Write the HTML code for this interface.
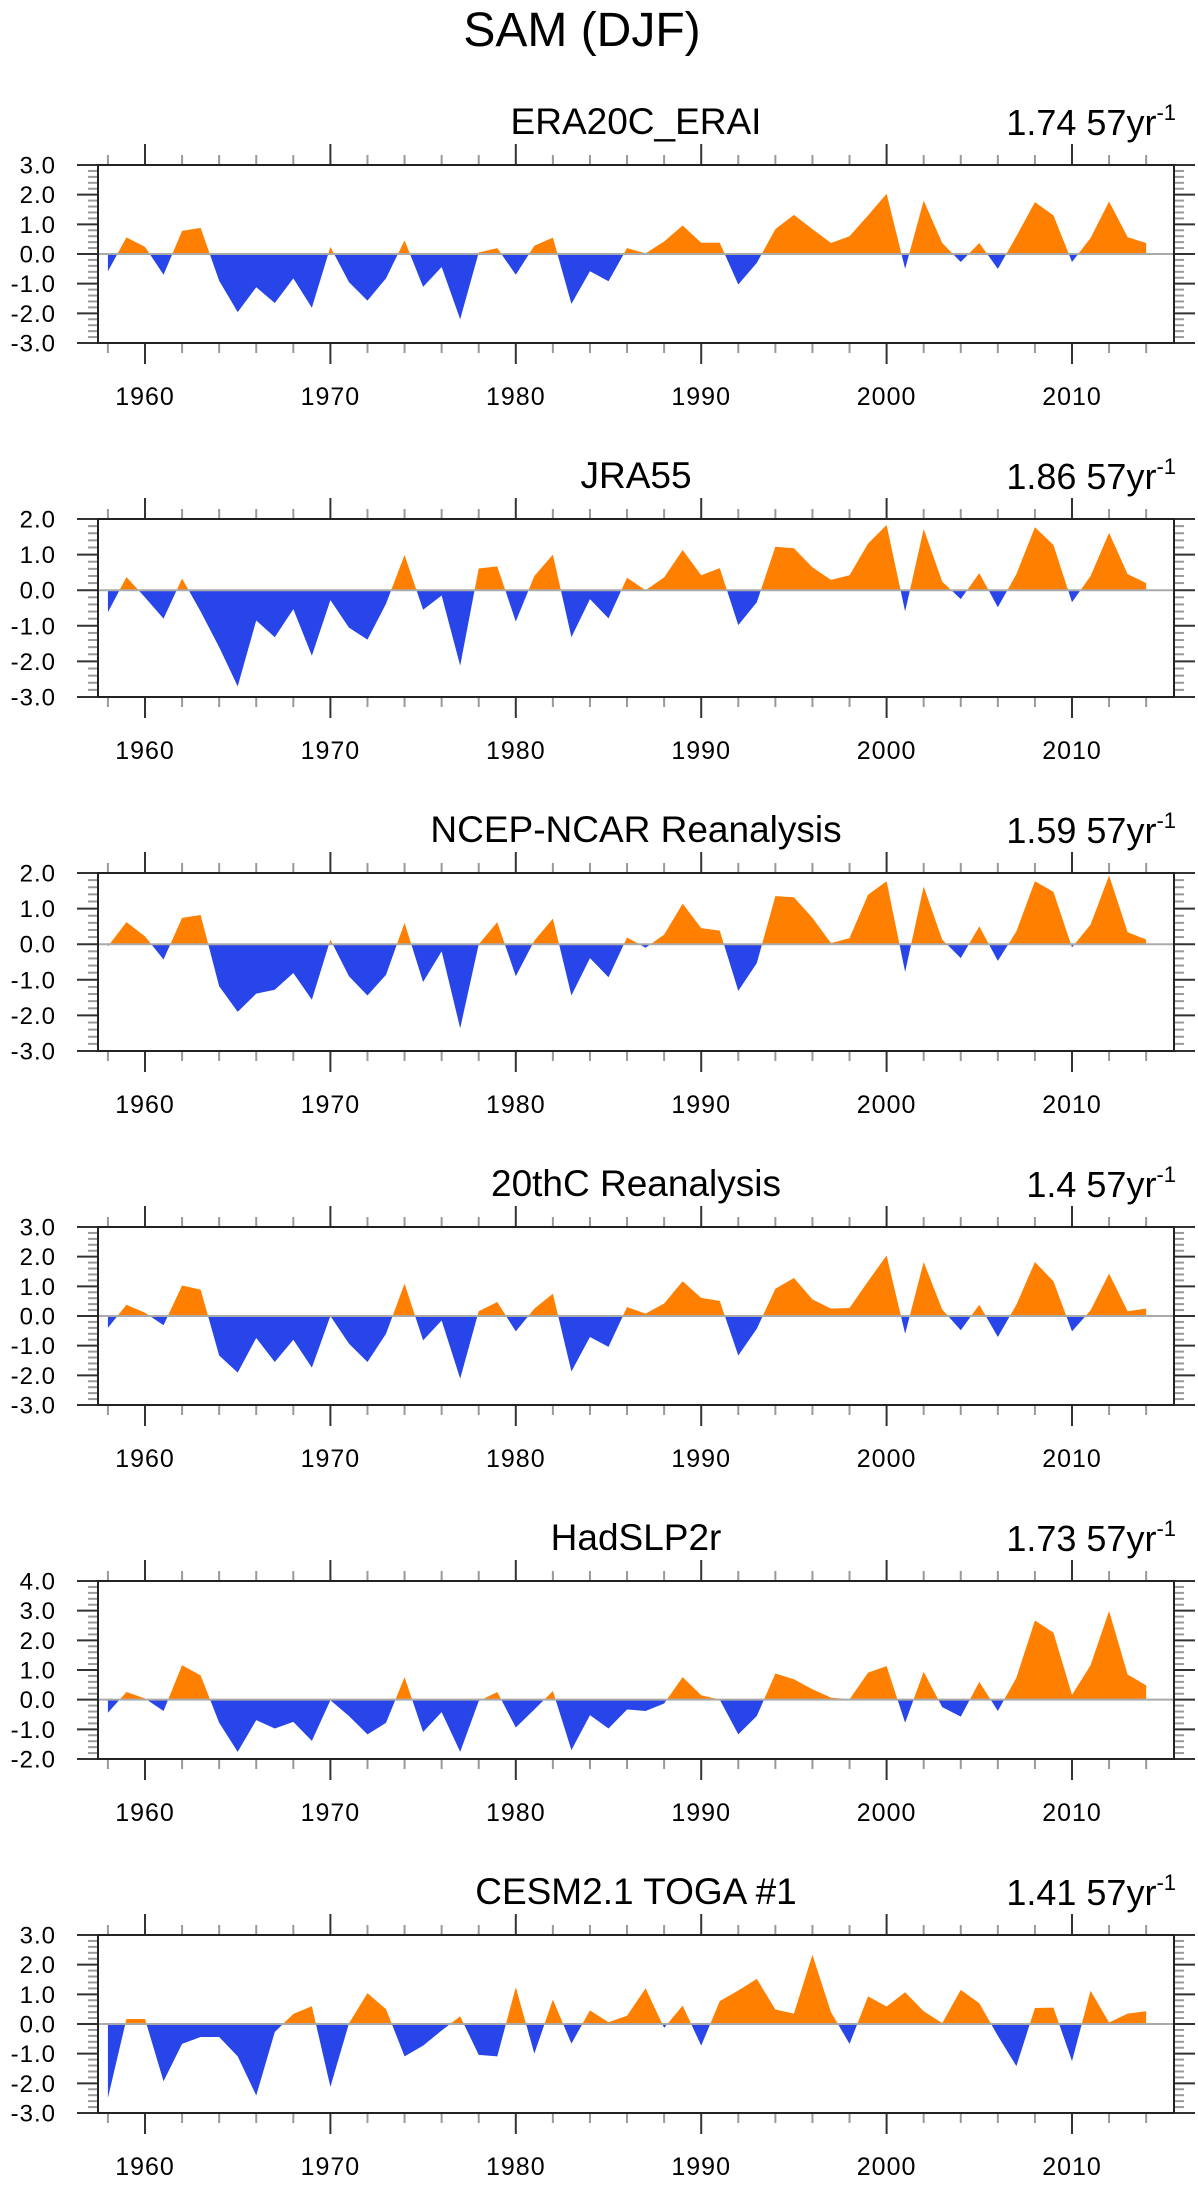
<!DOCTYPE html>
<html><head><meta charset="utf-8"><style>
html,body{margin:0;padding:0;background:#fff;}
svg{display:block;font-family:"Liberation Sans",Arial,sans-serif;}
</style></head><body>
<svg id="chart" width="1198" height="2186" viewBox="0 0 1198 2186" xmlns="http://www.w3.org/2000/svg">
<text x="582" y="46" font-size="48" text-anchor="middle">SAM (DJF)</text>
</svg>
<script>
const years = [];
for (let y = 1958; y <= 2014; y++) years.push(y);
const panelTitles = ["ERA20C_ERAI","JRA55","NCEP-NCAR Reanalysis","20thC Reanalysis","HadSLP2r","CESM2.1 TOGA #1"];
const trendLabels = ["1.74 57yr","1.86 57yr","1.59 57yr","1.4 57yr","1.73 57yr","1.41 57yr"];
const yMins = [-3,-3,-3,-3,-2,-3];
const yMaxs = [3,2,2,3,4,3];
const xTickYears = [1960,1970,1980,1990,2000,2010];
const era20c = [-0.58,0.56,0.24,-0.7,0.78,0.88,-0.9,-1.96,-1.12,-1.65,-0.82,-1.81,0.24,-0.95,-1.57,-0.82,0.46,-1.11,-0.44,-2.2,0.05,0.2,-0.7,0.28,0.55,-1.68,-0.58,-0.92,0.2,0.02,0.42,0.96,0.38,0.38,-1.03,-0.3,0.84,1.32,0.84,0.37,0.6,1.3,2.03,-0.5,1.8,0.37,-0.27,0.37,-0.5,0.6,1.75,1.3,-0.27,0.54,1.77,0.57,0.37];
const jra55 = [-0.62,0.37,-0.2,-0.8,0.33,-0.6,-1.6,-2.7,-0.85,-1.32,-0.53,-1.84,-0.28,-1.05,-1.39,-0.38,0.99,-0.55,-0.15,-2.12,0.61,0.67,-0.88,0.4,1.0,-1.32,-0.25,-0.79,0.35,0.0,0.36,1.13,0.42,0.62,-0.98,-0.34,1.22,1.18,0.64,0.29,0.42,1.31,1.83,-0.6,1.72,0.24,-0.25,0.48,-0.48,0.45,1.77,1.27,-0.34,0.4,1.61,0.45,0.2];
const ncep = [-0.06,0.62,0.22,-0.43,0.74,0.82,-1.18,-1.9,-1.39,-1.28,-0.81,-1.56,0.13,-0.9,-1.44,-0.86,0.6,-1.06,-0.2,-2.36,0.0,0.62,-0.9,0.1,0.72,-1.44,-0.39,-0.93,0.19,-0.1,0.27,1.14,0.45,0.38,-1.31,-0.53,1.35,1.32,0.74,0.03,0.17,1.39,1.77,-0.78,1.62,0.13,-0.39,0.5,-0.47,0.36,1.77,1.47,-0.09,0.55,1.93,0.34,0.13];
const c20 = [-0.4,0.38,0.11,-0.31,1.03,0.89,-1.33,-1.91,-0.74,-1.55,-0.8,-1.74,0.0,-0.93,-1.55,-0.6,1.09,-0.82,-0.15,-2.11,0.16,0.47,-0.52,0.25,0.75,-1.87,-0.71,-1.04,0.3,0.08,0.42,1.17,0.61,0.51,-1.33,-0.43,0.92,1.28,0.56,0.25,0.27,1.17,2.04,-0.6,1.82,0.22,-0.48,0.38,-0.71,0.38,1.82,1.17,-0.52,0.19,1.43,0.16,0.25];
const hadslp = [-0.44,0.26,0.04,-0.38,1.16,0.82,-0.78,-1.76,-0.69,-0.97,-0.75,-1.39,-0.02,-0.55,-1.17,-0.78,0.76,-1.09,-0.42,-1.76,-0.05,0.26,-0.94,-0.33,0.29,-1.7,-0.52,-0.97,-0.33,-0.38,-0.13,0.76,0.15,0.0,-1.17,-0.55,0.88,0.69,0.35,0.07,0.01,0.91,1.13,-0.78,0.94,-0.25,-0.57,0.6,-0.38,0.74,2.67,2.26,0.16,1.16,2.99,0.85,0.48];
const cesm = [-2.49,0.17,0.17,-1.93,-0.67,-0.44,-0.44,-1.09,-2.41,-0.27,0.34,0.6,-2.12,0.02,1.04,0.5,-1.09,-0.73,-0.22,0.26,-1.04,-1.09,1.24,-1.0,0.82,-0.66,0.46,0.06,0.28,1.2,-0.13,0.62,-0.73,0.77,1.13,1.52,0.49,0.35,2.33,0.4,-0.67,0.93,0.59,1.07,0.43,0.03,1.15,0.7,-0.4,-1.42,0.54,0.55,-1.25,1.12,0.05,0.35,0.43];
const series = [era20c,jra55,ncep,c20,hadslp,cesm];

const NS = "http://www.w3.org/2000/svg";
const svg = document.getElementById("chart");
function mk(tag, attrs, parent){const e=document.createElementNS(NS,tag);for(const k in attrs)e.setAttribute(k,attrs[k]);(parent||svg).appendChild(e);return e;}
const L=98,R=1174,H=178,TOP0=165,STEP=354;
const xScale = yr => 145 + (yr-1960)*18.54;

series.forEach((vals,i)=>{
  const top=TOP0+STEP*i, bot=top+H;
  const ymin=yMins[i], ymax=yMaxs[i];
  const yScale = v => bot - (v-ymin)/(ymax-ymin)*H;
  const g=mk("g",{});
  
  
  const t=mk("text",{x:636,y:top-31,"font-size":37,"text-anchor":"middle"},g);
  
  
  t.textContent=panelTitles[i];
  const tr=mk("text",{x:1176,y:top-30,"font-size":36,"text-anchor":"end"},g);
  
  
  const s1=mk("tspan",{},tr); s1.textContent=trendLabels[i];
  const s2=mk("tspan",{dy:-15,"font-size":22}, tr); s2.textContent="-1";
  const y0=yScale(0);
  let d="M"+xScale(years[0])+","+y0;
  vals.forEach((v,k)=>{d+=" L"+xScale(years[k]).toFixed(2)+","+yScale(v).toFixed(2);});
  d+=" L"+xScale(years[years.length-1])+","+y0+" Z";
  mk("clipPath",{id:"cpos"+i},g).appendChild(document.createElementNS(NS,"rect"));
  const cpr=g.querySelector("#cpos"+i+" rect"); cpr.setAttribute("x",L);cpr.setAttribute("y",top);cpr.setAttribute("width",R-L);cpr.setAttribute("height",y0-top);
  mk("clipPath",{id:"cneg"+i},g).appendChild(document.createElementNS(NS,"rect"));
  const cnr=g.querySelector("#cneg"+i+" rect"); cnr.setAttribute("x",L);cnr.setAttribute("y",y0);cnr.setAttribute("width",R-L);cnr.setAttribute("height",bot-y0);
  const ap=mk("path",{d:d,fill:"#ff8000","clip-path":"url(#cpos"+i+")"},g);
  
  
  const an=mk("path",{d:d,fill:"#2845ea","clip-path":"url(#cneg"+i+")"},g);
  
  
  const zl=mk("line",{x1:L,x2:R,y1:y0,y2:y0,stroke:"#aaa","stroke-width":2},g);
  
  
  // y ticks
  for(let v=ymin; v<=ymax+1e-6; v=Math.round((v+0.2)*10)/10){
    const yy=yScale(v); const major=Math.abs(v-Math.round(v))<1e-6;
    const len=major?21:10, col=major?"#333":"#999";
    mk("line",{x1:L-len,x2:L,y1:yy,y2:yy,stroke:col,"stroke-width":2},g);
    mk("line",{x1:R,x2:R+len,y1:yy,y2:yy,stroke:col,"stroke-width":2},g);
    if(major){
      const lb=mk("text",{x:56,y:yy+8.5,"font-size":24,"text-anchor":"end","letter-spacing":"1"},g);
      
      
      lb.textContent=v.toFixed(1);
    }
  }
  // x ticks
  for(let yr=1958; yr<=2014; yr+=2){
    const xx=xScale(yr); const major=yr%10===0;
    const len=major?21:10, col=major?"#333":"#999";
    mk("line",{x1:xx,x2:xx,y1:top-len,y2:top,stroke:col,"stroke-width":2},g);
    mk("line",{x1:xx,x2:xx,y1:bot,y2:bot+len,stroke:col,"stroke-width":2},g);
  }
  xTickYears.forEach(yr=>{
    const lb=mk("text",{x:xScale(yr),y:bot+62,"font-size":25,"text-anchor":"middle","letter-spacing":"1"},g);
    
    
    lb.textContent=yr;
  });
  const fr=mk("rect",{x:L,y:top,width:R-L,height:H,fill:"none",stroke:"#222","stroke-width":2},g);
  
  
});
</script>
</body></html>
